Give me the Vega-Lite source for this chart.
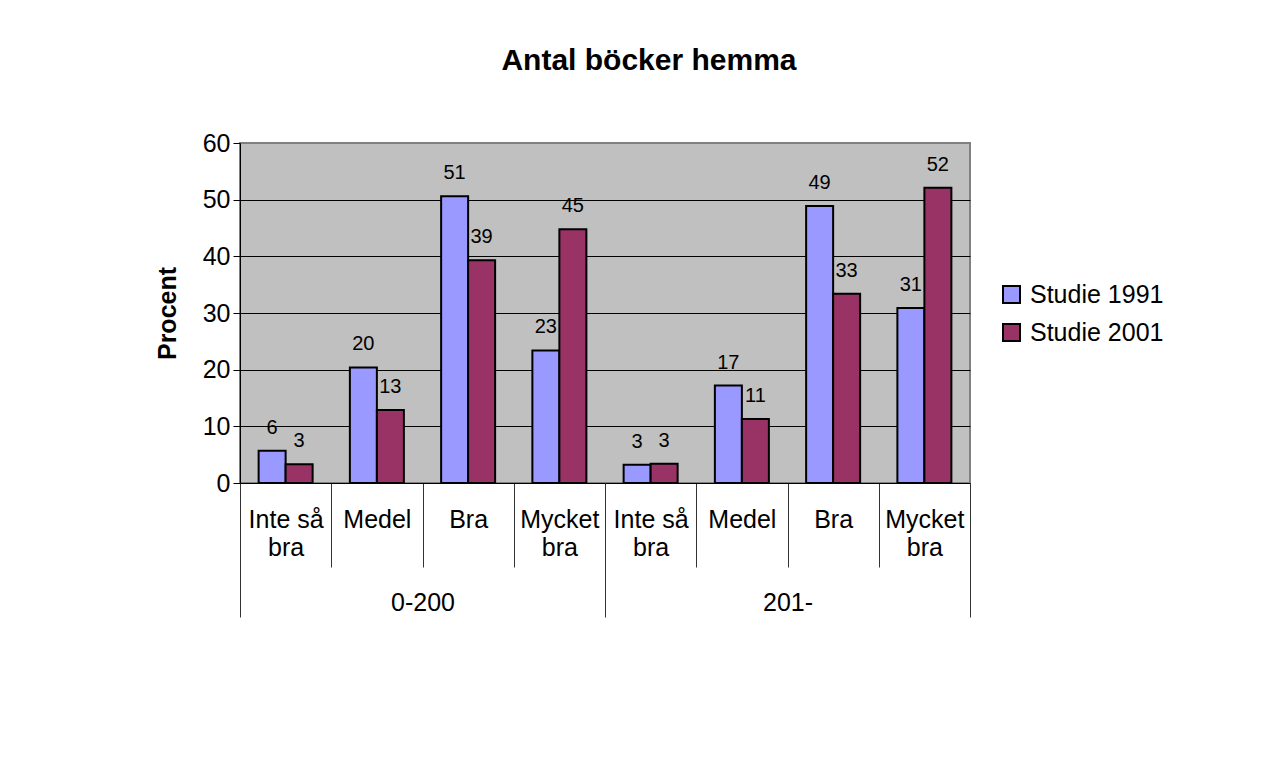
{
  "$schema": "https://vega.github.io/schema/vega-lite/v6.json",
  "autosize": {"type": "none"},
  "width": 730,
  "height": 340,
  "padding": {"left": 240, "top": 143, "right": 308, "bottom": 288},
  "background": "#ffffff",
  "config": {
    "font": "Liberation Sans",
    "view": {"fill": "#c0c0c0", "stroke": "#808080", "strokeWidth": 2},
    "axis": {"labelColor": "#000000", "titleColor": "#000000", "labelFont": "Liberation Sans", "titleFont": "Liberation Sans"},
    "legend": {"labelColor": "#000000", "labelFont": "Liberation Sans"}
  },
  "title": {
    "text": "Antal böcker hemma",
    "fontSize": 30,
    "fontWeight": "bold",
    "color": "#000000",
    "anchor": "middle",
    "dx": 44,
    "offset": 55
  },
  "data": {
    "values": [
      {"gruppe": "0-200", "kat": "0-200:Inte så|bra", "studie": "Studie 1991", "procent": 5.7},
      {"gruppe": "0-200", "kat": "0-200:Inte så|bra", "studie": "Studie 2001", "procent": 3.3},
      {"gruppe": "0-200", "kat": "0-200:Medel", "studie": "Studie 1991", "procent": 20.4},
      {"gruppe": "0-200", "kat": "0-200:Medel", "studie": "Studie 2001", "procent": 12.9},
      {"gruppe": "0-200", "kat": "0-200:Bra", "studie": "Studie 1991", "procent": 50.6},
      {"gruppe": "0-200", "kat": "0-200:Bra", "studie": "Studie 2001", "procent": 39.3},
      {"gruppe": "0-200", "kat": "0-200:Mycket|bra", "studie": "Studie 1991", "procent": 23.4},
      {"gruppe": "0-200", "kat": "0-200:Mycket|bra", "studie": "Studie 2001", "procent": 44.8},
      {"gruppe": "201-", "kat": "201-:Inte så|bra", "studie": "Studie 1991", "procent": 3.2},
      {"gruppe": "201-", "kat": "201-:Inte så|bra", "studie": "Studie 2001", "procent": 3.4},
      {"gruppe": "201-", "kat": "201-:Medel", "studie": "Studie 1991", "procent": 17.2},
      {"gruppe": "201-", "kat": "201-:Medel", "studie": "Studie 2001", "procent": 11.3},
      {"gruppe": "201-", "kat": "201-:Bra", "studie": "Studie 1991", "procent": 48.9},
      {"gruppe": "201-", "kat": "201-:Bra", "studie": "Studie 2001", "procent": 33.4},
      {"gruppe": "201-", "kat": "201-:Mycket|bra", "studie": "Studie 1991", "procent": 30.9},
      {"gruppe": "201-", "kat": "201-:Mycket|bra", "studie": "Studie 2001", "procent": 52.1}
    ]
  },
  "layer": [
    {
      "encoding": {
        "x": {
          "field": "kat",
          "type": "nominal",
          "sort": null,
          "scale": {"paddingInner": 0, "paddingOuter": 0},
          "axis": {
            "title": null,
            "orient": "bottom",
            "labelAngle": 0,
            "labelFontSize": 25,
            "labelLineHeight": 28,
            "labelExpr": "split(substring(datum.label, indexof(datum.label, ':') + 1), '|')",
            "labelOverlap": false,
            "labelPadding": -60,
            "tickBand": "extent",
            "tickSize": 84,
            "tickColor": "#333333",
            "tickWidth": 1,
            "domainColor": "#000000",
            "domainWidth": 1,
            "grid": false
          }
        },
        "xOffset": {
          "field": "studie",
          "type": "nominal",
          "scale": {"paddingInner": 0, "paddingOuter": 0.69}
        },
        "y": {
          "field": "procent",
          "type": "quantitative",
          "scale": {"domain": [0, 60], "nice": false},
          "axis": {
            "title": "Procent",
            "titleFontSize": 25,
            "titleFontWeight": "bold",
            "titlePadding": 22,
            "values": [0, 10, 20, 30, 40, 50, 60],
            "labelFontSize": 25,
            "labelPadding": 3,
            "tickSize": 7,
            "tickColor": "#000000",
            "domainColor": "#000000",
            "grid": true,
            "gridColor": {"condition": {"test": "datum.value === 60", "value": "#808080"}, "value": "#000000"},
            "gridWidth": 1
          }
        }
      },
      "layer": [
        {
          "mark": {"type": "bar", "stroke": "#000000", "strokeWidth": 2},
          "encoding": {
            "color": {
              "field": "studie",
              "type": "nominal",
              "scale": {"domain": ["Studie 1991", "Studie 2001"], "range": ["#9999ff", "#993366"]},
              "legend": {
                "title": null,
                "orient": "none",
                "legendX": 759,
                "legendY": 139,
                "symbolType": "square",
                "symbolSize": 289,
                "symbolStrokeColor": "#000000",
                "symbolStrokeWidth": 2,
                "symbolOpacity": 1,
                "labelFontSize": 25,
                "labelOffset": 6,
                "rowPadding": 12,
                "padding": 0
              }
            }
          }
        },
        {
          "mark": {"type": "text", "baseline": "middle", "dy": -23, "fontSize": 20, "color": "#000000"},
          "encoding": {
            "text": {"field": "procent", "type": "quantitative", "format": ".0f"}
          }
        }
      ]
    },
    {
      "mark": {"type": "point", "opacity": 0},
      "encoding": {
        "x": {
          "field": "gruppe",
          "type": "nominal",
          "sort": null,
          "scale": {"paddingInner": 0, "paddingOuter": 0},
          "axis": {
            "title": null,
            "orient": "bottom",
            "labelAngle": 0,
            "labelFontSize": 25,
            "labelPadding": -27,
            "domain": false,
            "tickBand": "extent",
            "tickSize": 134,
            "tickColor": "#333333",
            "tickWidth": 1,
            "grid": false
          }
        }
      }
    }
  ],
  "resolve": {"scale": {"x": "independent"}, "axis": {"x": "independent"}}
}
